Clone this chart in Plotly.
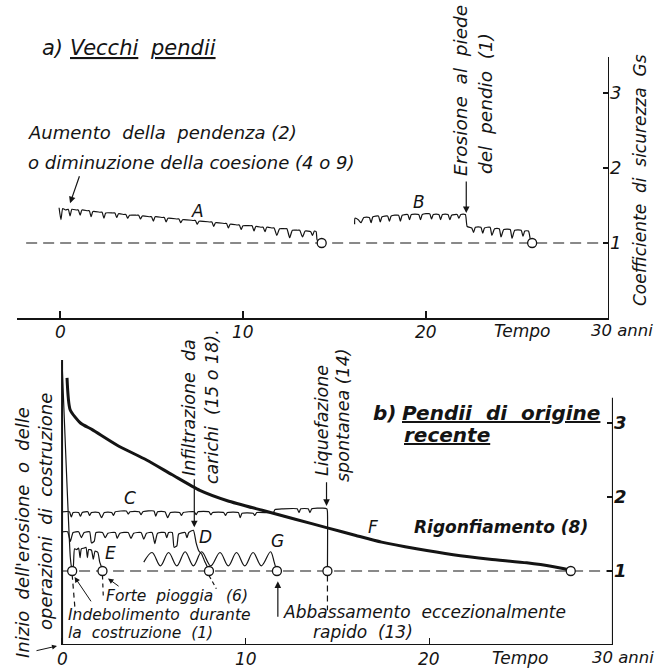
import plotly.graph_objects as go

# ---------------- data ----------------
year_ticks = [0, 10, 20]
year_labels = ["0", "10", "20"]
gs_ticks = [1, 2, 3]
gs_critical = 1.0

# a) Vecchi pendii
A_t = [-0.05, 0.05, 0.15, 0.3, 0.45, 0.55, 0.65, 0.9, 1.0, 1.1, 1.2, 1.5, 1.6, 1.7, 1.8, 2.2, 2.3, 2.4, 2.5,
       2.9, 3.0, 3.1, 3.2, 3.5, 3.6, 3.7, 3.8, 4.2, 4.3, 4.4, 4.5, 4.9, 5.0, 5.1, 5.2, 5.6, 5.7, 5.8, 5.9,
       6.4, 6.5, 6.6, 6.7, 7.3, 7.4, 7.5, 7.6, 8.2, 8.3, 8.4, 8.5, 9.0, 9.1, 9.2, 9.3, 9.7, 9.8, 9.9, 10.0,
       10.4, 10.5, 10.6, 10.7, 11.0, 11.1, 11.2, 11.3, 11.6, 11.7, 11.85, 12.0, 12.3, 12.4, 12.55, 12.7,
       13.0, 13.1, 13.25, 13.4, 13.7, 13.8, 13.9, 14.0, 14.05, 14.3]
A_v = [1.47, 1.31, 1.46, 1.44, 1.45, 1.36, 1.45, 1.44, 1.44, 1.37, 1.44, 1.43, 1.43, 1.35, 1.42, 1.41, 1.41, 1.33, 1.40,
       1.40, 1.40, 1.34, 1.39, 1.38, 1.38, 1.33, 1.37, 1.37, 1.37, 1.32, 1.36, 1.35, 1.35, 1.29, 1.35, 1.34, 1.34, 1.28, 1.33,
       1.32, 1.32, 1.27, 1.31, 1.30, 1.30, 1.25, 1.29, 1.28, 1.28, 1.22, 1.27, 1.26, 1.26, 1.20, 1.25, 1.24, 1.24, 1.18, 1.23,
       1.23, 1.23, 1.16, 1.22, 1.21, 1.21, 1.15, 1.21, 1.20, 1.20, 1.10, 1.19, 1.19, 1.19, 1.07, 1.17,
       1.17, 1.17, 1.08, 1.16, 1.15, 1.10, 1.16, 1.15, 1.04, 0.99]

B_t = [16.1, 16.12, 16.3, 16.45, 16.6, 16.9, 17.0, 17.1, 17.4, 17.5, 17.6, 17.9, 18.0, 18.1, 18.5, 18.6, 18.7,
       19.0, 19.1, 19.2, 19.6, 19.7, 19.8, 20.2, 20.3, 20.4, 20.7, 20.8, 20.9, 21.2, 21.3, 21.4, 21.7, 21.8, 21.9,
       22.15, 22.25, 22.5, 22.6, 22.7, 23.0, 23.1, 23.2, 23.5, 23.6, 23.75, 24.0, 24.1, 24.25, 24.6, 24.7, 24.85,
       25.2, 25.3, 25.4, 25.6, 25.7, 25.8]
B_v = [1.25, 1.33, 1.31, 1.27, 1.34, 1.34, 1.27, 1.35, 1.36, 1.28, 1.35, 1.36, 1.29, 1.36, 1.37, 1.29, 1.37,
       1.38, 1.31, 1.38, 1.38, 1.31, 1.38, 1.39, 1.32, 1.38, 1.38, 1.31, 1.38, 1.38, 1.31, 1.37, 1.38, 1.33, 1.38,
       1.38, 1.22, 1.20, 1.14, 1.21, 1.21, 1.13, 1.20, 1.21, 1.10, 1.19, 1.19, 1.08, 1.18, 1.18, 1.06, 1.17,
       1.17, 1.09, 1.16, 1.16, 1.05, 0.99]

top_fail_t = [14.3, 25.8]

# b) Pendii di origine recente
C_t = [0.0, 0.4, 0.5, 0.6, 0.9, 1.0, 1.1, 1.4, 1.5, 1.6, 2.0, 2.15, 2.3, 2.7, 2.8, 2.9, 3.5, 3.6, 3.7, 4.2, 4.3, 4.4,
       5.0, 5.1, 5.2, 5.6, 5.75, 5.9, 6.4, 6.5, 6.6, 7.2, 7.3, 7.4, 8.0, 8.1, 8.2, 8.8, 8.9, 9.0, 9.6, 9.7, 9.8,
       10.4, 10.5, 10.6, 11.5, 11.6, 12.0, 12.8, 12.9, 13.0, 13.4, 13.5, 13.6, 14.2, 14.42, 14.45, 14.45]
C_v = [1.80, 1.80, 1.73, 1.79, 1.79, 1.74, 1.79, 1.80, 1.75, 1.79, 1.79, 1.72, 1.79, 1.79, 1.75, 1.80, 1.81, 1.77, 1.80,
       1.80, 1.76, 1.80, 1.81, 1.74, 1.80, 1.80, 1.72, 1.79, 1.79, 1.75, 1.79, 1.80, 1.76, 1.80, 1.80, 1.76, 1.79,
       1.79, 1.75, 1.79, 1.79, 1.72, 1.78, 1.78, 1.75, 1.79, 1.79, 1.83, 1.84, 1.84, 1.79, 1.84, 1.84, 1.79, 1.84,
       1.85, 1.84, 1.80, 1.0]

D_t = [0.0, 0.3, 0.45, 0.6, 0.9, 1.05, 1.2, 1.5, 1.6, 1.75, 1.85, 2.2, 2.35, 2.5, 2.9, 3.0, 3.15, 3.6, 3.75, 3.9,
       4.3, 4.45, 4.6, 4.9, 5.05, 5.2, 5.6, 5.7, 5.8, 6.0, 6.1, 6.25, 6.35, 6.7, 6.8, 6.9, 7.15, 7.3, 7.45, 7.6,
       7.75, 7.9, 8.0]
D_v = [1.53, 1.53, 1.40, 1.52, 1.53, 1.45, 1.52, 1.53, 1.38, 1.40, 1.52, 1.52, 1.45, 1.51, 1.52, 1.44, 1.51, 1.52,
       1.44, 1.51, 1.52, 1.43, 1.51, 1.52, 1.37, 1.51, 1.52, 1.45, 1.52, 1.52, 1.32, 1.34, 1.50, 1.52, 1.45, 1.52,
       1.55, 1.38, 1.27, 1.23, 1.14, 1.06, 1.0]

E_t = [0.0, 0.45, 0.52, 0.6, 0.68, 0.8, 0.9, 0.98, 1.05, 1.2, 1.3, 1.38, 1.45, 1.6, 1.7, 1.8, 1.95, 2.05, 2.15, 2.2]
E_v = [3.82, 1.18, 1.05, 1.02, 1.30, 1.29, 1.31, 1.18, 1.30, 1.31, 1.32, 1.18, 1.29, 1.28, 1.16, 1.27, 1.25, 1.12, 1.05, 1.0]

F_t = [0.27, 0.44, 1.0, 1.64, 3.0, 4.6, 6.0, 7.5, 9.0, 10.9, 12.7, 14.5, 16.0, 17.4, 19.3, 21.3, 23.3, 25.3, 26.7, 27.7]
F_v = [3.61, 3.18, 3.00, 2.91, 2.70, 2.50, 2.30, 2.09, 1.95, 1.82, 1.70, 1.58, 1.48, 1.39, 1.30, 1.22, 1.16, 1.11, 1.06, 1.01]

G_t = [4.45, 4.9, 5.35, 5.8, 6.25, 6.7, 7.15, 7.6, 8.1, 8.6, 9.05, 9.5, 9.95, 10.4, 10.85, 11.35, 11.55, 11.68]
G_v = [1.12, 1.25, 1.07, 1.25, 1.07, 1.26, 1.07, 1.26, 1.07, 1.25, 1.07, 1.25, 1.07, 1.25, 1.07, 1.26, 1.12, 1.0]

bot_fail_t = [0.55, 2.2, 8.0, 11.7, 14.45, 27.7]

# ---------------- figure ----------------
W, H = 670, 672
INK = "#141414"
FONT = "DejaVu Sans, Liberation Sans, sans-serif"

fig = go.Figure()


def curve(t, v, panel, width=1.2, shape="spline", smoothing=0.5):
    xa, ya = ("x", "y") if panel == 1 else ("x2", "y2")
    fig.add_trace(go.Scatter(x=t, y=v, xaxis=xa, yaxis=ya, mode="lines",
                             line=dict(color=INK, width=width, shape=shape, smoothing=smoothing),
                             hoverinfo="skip", showlegend=False))


def circles(t, panel):
    xa, ya = ("x", "y") if panel == 1 else ("x2", "y2")
    fig.add_trace(go.Scatter(x=t, y=[gs_critical] * len(t), xaxis=xa, yaxis=ya, mode="markers",
                             marker=dict(symbol="circle", size=9, color="white",
                                         line=dict(color=INK, width=1.3)),
                             hoverinfo="skip", showlegend=False))


shapes = []


def seg(x0, y0, x1, y1, panel, width=1.2, dash=None):
    xr, yr = ("x", "y") if panel == 1 else ("x2", "y2")
    shapes.append(dict(type="line", xref=xr, yref=yr, x0=x0, y0=y0, x1=x1, y1=y1,
                       line=dict(color=INK, width=width, dash=dash), layer="below"))


# reference lines Gs = 1
seg(-1.85, gs_critical, 30, gs_critical, 1, dash="11px,6px")
seg(0, gs_critical, 30, gs_critical, 2, dash="11px,6px")
# axis strokes
seg(30, 0, 30, 3.48, 1, width=2)
seg(0, 0, 30, 0, 2, width=2.2)
seg(0, 0, 0, 3.85, 2, width=2)
seg(30, 0, 30, 3.34, 2, width=2.2)
# dashed leaders under failure points
seg(0.55, 0.95, 0.72, 0.44, 2, dash="5px,4px")
seg(2.2, 0.94, 2.25, 0.62, 2, dash="4px,4px")
seg(8.0, 0.94, 8.4, 0.76, 2, dash="4px,3px")
seg(14.45, 0.94, 14.45, 0.47, 2, dash="6px,4px")

curve(A_t, A_v, 1)
curve(B_t, B_v, 1)
curve(C_t, C_v, 2)
curve(D_t, D_v, 2)
curve(E_t, E_v, 2)
curve(G_t, G_v, 2, smoothing=1.0)
curve(F_t, F_v, 2, width=3, smoothing=0.6)
circles(top_fail_t, 1)
circles(bot_fail_t, 2)

ann = []


def px(x):
    return x / W


def py(y):
    return 1 - y / H


def fnt(size, bold=False, under=False):
    f = dict(family=FONT, size=size, color=INK, style="italic")
    if bold:
        f["weight"] = "bold"
    if under:
        f["lineposition"] = "under"
    return f


def text(s, x, y, size=17, anchor="center", angle=0, bold=False, under=False):
    ann.append(dict(text=s, x=px(x), y=py(y), xref="paper", yref="paper", showarrow=False,
                    xanchor=anchor, yanchor="middle", textangle=angle, font=fnt(size, bold, under)))


def arrow(t0, v0, t1, v1, panel, width=1.2):
    xr, yr = ("x", "y") if panel == 1 else ("x2", "y2")
    ann.append(dict(text="", x=t1, y=v1, ax=t0, ay=v0, xref=xr, yref=yr, axref=xr, ayref=yr,
                    showarrow=True, arrowhead=2, arrowsize=1.1, arrowwidth=width, arrowcolor=INK,
                    standoff=0, startstandoff=0))


# x tick labels (both panels) placed under the ticks
for tv, tl in zip(year_ticks, year_labels):
    ann.append(dict(text=tl, x=tv, y=py(332), xref="x", yref="paper", showarrow=False,
                    xanchor="center", yanchor="middle", font=fnt(17)))
    ann.append(dict(text=tl, x=tv, y=py(659), xref="x2", yref="paper", showarrow=False,
                    xanchor="center", yanchor="middle", font=fnt(17)))

# --- top panel texts
text("a)", 40, 48, 21, "left")
text("Vecchi", 68, 48, 21, "left", under=True)
text("pendii", 148, 48, 21, "left", under=True)
text("Aumento  della  pendenza (2)", 26, 133, 18, "left")
text("o diminuzione della coesione (4 o 9)", 26, 162, 18, "left")
text("A", 197, 211, 17)
text("B", 419, 202, 17)
text("Erosione  al  piede", 461, 91, 18.5, angle=-90)
text("del  pendio  (1)", 485, 104, 18.5, angle=-90)
text("Coefficiente  di  sicurezza  Gs", 640, 180, 17, angle=-90)
text("Tempo", 522, 331, 17)
text("30 anni", 589, 330, 16.5, "left")
arrow(1.09, 1.91, 0.55, 1.53, 1)
arrow(22.2, 1.84, 22.2, 1.40, 1)

# --- bottom panel texts
text("Inizio  dell'erosione  o  delle", 22, 533, 18, angle=-90)
text("operazioni  di  costruzione", 45, 512, 18, angle=-90)
text("Infiltrazione  da", 189, 408, 17.5, angle=-90)
text("carichi  (15 o 18).", 212, 407, 17.5, angle=-90)
text("Liquefazione", 322, 421, 17.5, angle=-90)
text("spontanea (14)", 343, 415, 17.5, angle=-90)
text("b)", 371, 413, 20, "left", bold=True)
text("Pendii  di  origine", 400, 413, 20, "left", bold=True, under=True)
text("recente", 402, 435, 20, "left", bold=True, under=True)
text("Rigonfiamento (8)", 501, 527, 17, bold=True)
text("C", 130, 498, 17)
text("D", 205, 537, 17)
text("E", 110, 553, 17)
text("F", 373, 527, 17)
text("G", 277, 541, 17)
text("Forte  pioggia", 104, 596, 15.5, "left")
text("(6)", 224, 596, 15.5, "left")
text("Indebolimento  durante", 66, 615, 15.5, "left")
text("la  costruzione  (1)", 66, 633, 15.5, "left")
text("Abbassamento  eccezionalmente", 281, 612, 17, "left")
text("rapido  (13)", 311, 632, 17, "left")
text("Tempo", 520, 658, 17)
text("30 anni", 590, 657, 16.5, "left")
arrow(7.2, 2.26, 7.2, 1.59, 2)
arrow(14.4, 2.22, 14.4, 1.88, 2)
arrow(11.75, 0.36, 11.75, 0.86, 2)
arrow(3.16, 0.78, 2.5, 0.9, 2, width=1)
arrow(1.63, 0.57, 0.68, 0.92, 2, width=1)
ann.append(dict(text="", x=px(57), y=py(646), xref="paper", yref="paper", ax=-22, ay=5,
                showarrow=True, arrowhead=2, arrowsize=1, arrowwidth=1, arrowcolor=INK))

common_x = dict(showgrid=False, zeroline=False, ticks="inside", ticklen=7, tickwidth=1.5, tickcolor=INK,
                tickvals=year_ticks, showticklabels=False, fixedrange=True)
common_y = dict(showgrid=False, zeroline=False, ticks="inside", ticklen=6, tickwidth=1.5, tickcolor=INK,
                tickvals=gs_ticks, side="right", showline=False, fixedrange=True)

fig.update_layout(
    width=W, height=H, margin=dict(l=0, r=0, t=0, b=0),
    paper_bgcolor="white", plot_bgcolor="rgba(0,0,0,0)", showlegend=False,
    font=dict(family=FONT, size=17, color=INK),
    xaxis=dict(domain=[px(17), px(609)], range=[-2.35, 30], anchor="y", showline=True, linewidth=2,
               linecolor=INK, **common_x),
    yaxis=dict(domain=[py(318), py(40)], range=[0, 278 / 75], anchor="x", tickfont=fnt(18), **common_y),
    xaxis2=dict(domain=[px(18), px(613)], range=[-2.4, 30], anchor="y2", showline=False, **common_x),
    yaxis2=dict(domain=[py(645), py(350)], range=[0, 295 / 74], anchor="x2", tickfont=fnt(18, bold=True),
                **common_y),
    shapes=shapes, annotations=ann,
)

# remove the browser's default page margin so the figure sits at the window origin; hide the modebar
fig.write_html("out.html", config={"displayModeBar": False, "staticPlot": True},
               post_script="document.body.style.margin='0';document.body.style.overflow='hidden';")
